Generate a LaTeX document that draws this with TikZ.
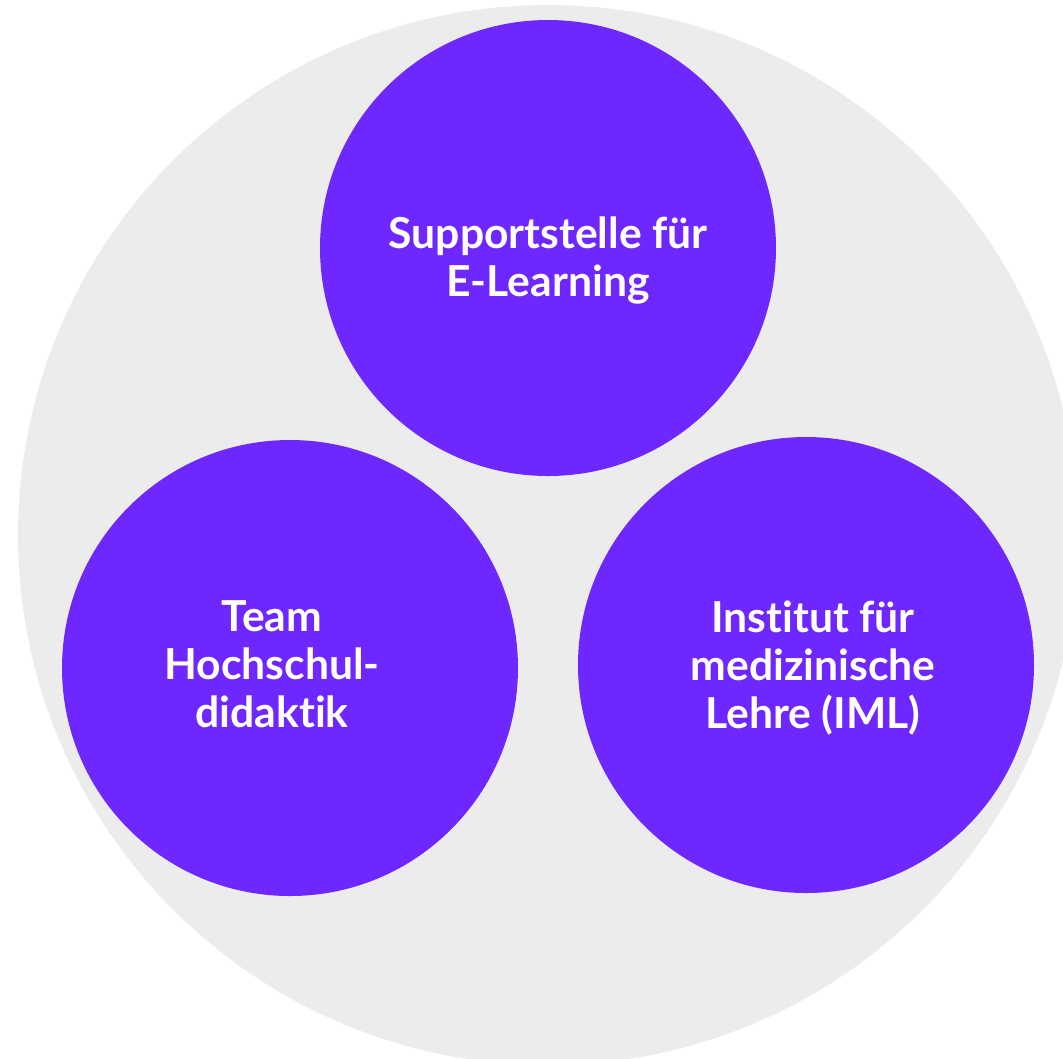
\documentclass[tikz,border=0pt]{standalone}
\usepackage{fontspec}
\setmainfont{Lato}[Ligatures=NoCommon]
\definecolor{unitviolet}{HTML}{6E27FF}
\definecolor{backgrey}{HTML}{ECECEC}
\tikzset{
  unit/.style={circle,fill=unitviolet,minimum size=342pt,inner sep=0pt},
  unit text/.style={text=white,font=\bfseries\fontsize{32}{36}\selectfont,align=center,inner sep=0pt}}
\begin{document}
\begin{tikzpicture}[x=0.75pt,y=-0.75pt]
      \useasboundingbox (0,0) rectangle (1063,1058);
      \begin{scope}
        \clip (0,0) rectangle (1063,1058);
        \fill[backgrey] (548,535) circle[radius=397.5pt];
      \end{scope}
      \draw
        (548,248) node[unit] (0){}
        (290,668) node[unit] (1){}
        (806,665) node[unit] (2){};
      \draw
        (548,260) node[unit text] (0t){Supportstelle für\\E-Learning}
        (272,664) node[unit text] (1t){Team\\Hochschul-\\didaktik}
        (813,668) node[unit text] (2t){Institut für\\medizinische\\Lehre (IML)};
    \end{tikzpicture}
\end{document}
